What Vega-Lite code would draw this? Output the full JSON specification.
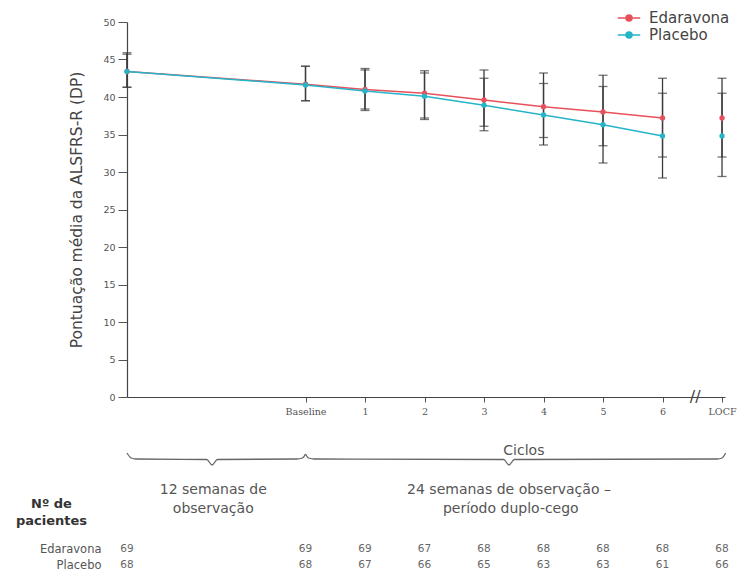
{
  "$schema": "https://vega.github.io/schema/vega-lite/v6.json",
  "background": "white",
  "padding": {"left": 15, "top": 9, "right": 0, "bottom": 0},
  "bounds": "flush",
  "spacing": 10,
  "config": {
    "view": {"stroke": null},
    "font": "DejaVu Sans",
    "axisY": {
      "grid": false, "tickSize": 9, "labelPadding": 3,
      "labelFontSize": 9.5, "labelColor": "#555", "tickColor": "#555",
      "domainColor": "#444", "domainWidth": 1.2,
      "titleFontSize": 15.5, "titleFontWeight": "normal", "titleColor": "#444", "titlePadding": 18
    }
  },
  "datasets": {
    "escores": [
      {"grupo": "Edaravona", "ciclo": -3, "media": 43.4, "inferior": 41.3, "superior": 45.9},
      {"grupo": "Edaravona", "ciclo": 0, "media": 41.7, "inferior": 39.5, "superior": 44.1},
      {"grupo": "Edaravona", "ciclo": 1, "media": 41.0, "inferior": 38.2, "superior": 43.8},
      {"grupo": "Edaravona", "ciclo": 2, "media": 40.5, "inferior": 37.2, "superior": 43.5},
      {"grupo": "Edaravona", "ciclo": 3, "media": 39.6, "inferior": 35.5, "superior": 43.6},
      {"grupo": "Edaravona", "ciclo": 4, "media": 38.7, "inferior": 34.6, "superior": 43.2},
      {"grupo": "Edaravona", "ciclo": 5, "media": 38.0, "inferior": 33.5, "superior": 42.9},
      {"grupo": "Edaravona", "ciclo": 6, "media": 37.2, "inferior": 32.0, "superior": 42.5},
      {"grupo": "Edaravona", "ciclo": 7, "media": 37.2, "inferior": 32.0, "superior": 42.5},
      {"grupo": "Placebo", "ciclo": -3, "media": 43.4, "inferior": 41.3, "superior": 45.7},
      {"grupo": "Placebo", "ciclo": 0, "media": 41.6, "inferior": 39.5, "superior": 44.1},
      {"grupo": "Placebo", "ciclo": 1, "media": 40.8, "inferior": 38.4, "superior": 43.6},
      {"grupo": "Placebo", "ciclo": 2, "media": 40.1, "inferior": 37.0, "superior": 43.2},
      {"grupo": "Placebo", "ciclo": 3, "media": 38.9, "inferior": 36.1, "superior": 42.5},
      {"grupo": "Placebo", "ciclo": 4, "media": 37.6, "inferior": 33.6, "superior": 41.8},
      {"grupo": "Placebo", "ciclo": 5, "media": 36.3, "inferior": 31.2, "superior": 41.4},
      {"grupo": "Placebo", "ciclo": 6, "media": 34.8, "inferior": 29.2, "superior": 40.5},
      {"grupo": "Placebo", "ciclo": 7, "media": 34.8, "inferior": 29.4, "superior": 40.5}
    ],
    "pacientes": [
      {"grupo": "Edaravona", "ciclo": -3, "n": 69},
      {"grupo": "Edaravona", "ciclo": 0, "n": 69},
      {"grupo": "Edaravona", "ciclo": 1, "n": 69},
      {"grupo": "Edaravona", "ciclo": 2, "n": 67},
      {"grupo": "Edaravona", "ciclo": 3, "n": 68},
      {"grupo": "Edaravona", "ciclo": 4, "n": 68},
      {"grupo": "Edaravona", "ciclo": 5, "n": 68},
      {"grupo": "Edaravona", "ciclo": 6, "n": 68},
      {"grupo": "Edaravona", "ciclo": 7, "n": 68},
      {"grupo": "Placebo", "ciclo": -3, "n": 68},
      {"grupo": "Placebo", "ciclo": 0, "n": 68},
      {"grupo": "Placebo", "ciclo": 1, "n": 67},
      {"grupo": "Placebo", "ciclo": 2, "n": 66},
      {"grupo": "Placebo", "ciclo": 3, "n": 65},
      {"grupo": "Placebo", "ciclo": 4, "n": 63},
      {"grupo": "Placebo", "ciclo": 5, "n": 63},
      {"grupo": "Placebo", "ciclo": 6, "n": 61},
      {"grupo": "Placebo", "ciclo": 7, "n": 66}
    ],
    "chaves": [
      {"chave": "observacao", "ciclo": -3.0, "pos": 46},
      {"chave": "observacao", "ciclo": -2.93, "pos": 51},
      {"chave": "observacao", "ciclo": -2.85, "pos": 52},
      {"chave": "observacao", "ciclo": -1.66, "pos": 52.5},
      {"chave": "observacao", "ciclo": -1.57, "pos": 58},
      {"chave": "observacao", "ciclo": -1.48, "pos": 52.5},
      {"chave": "observacao", "ciclo": -0.15, "pos": 52},
      {"chave": "observacao", "ciclo": -0.05, "pos": 51},
      {"chave": "observacao", "ciclo": 0.0, "pos": 47},
      {"chave": "duplo", "ciclo": 0.0, "pos": 47},
      {"chave": "duplo", "ciclo": 0.05, "pos": 51},
      {"chave": "duplo", "ciclo": 0.15, "pos": 52},
      {"chave": "duplo", "ciclo": 3.33, "pos": 52.5},
      {"chave": "duplo", "ciclo": 3.42, "pos": 58},
      {"chave": "duplo", "ciclo": 3.51, "pos": 52.5},
      {"chave": "duplo", "ciclo": 6.92, "pos": 52},
      {"chave": "duplo", "ciclo": 7.0, "pos": 51},
      {"chave": "duplo", "ciclo": 7.06, "pos": 46}
    ],
    "notas": [
      {"texto": "Ciclos", "ciclo": 3.67, "pos": 44},
      {"texto": "12 semanas de", "ciclo": -1.55, "pos": 83},
      {"texto": "observação", "ciclo": -1.55, "pos": 102},
      {"texto": "24 semanas de observação –", "ciclo": 3.42, "pos": 83},
      {"texto": "período duplo-cego", "ciclo": 3.45, "pos": 102}
    ]
  },
  "vconcat": [
    {
      "width": 598,
      "height": 375,
      "data": {"name": "escores"},
      "encoding": {
        "x": {
          "field": "ciclo", "type": "quantitative",
          "scale": {"domain": [-3, 7.05], "nice": false, "zero": false},
          "axis": {
            "values": [0, 1, 2, 3, 4, 5, 6, 7],
            "labelExpr": "datum.value == 0 ? 'Baseline' : datum.value == 7 ? 'LOCF' : datum.label",
            "title": null, "grid": false, "tickSize": 5, "labelPadding": 4,
            "labelFont": "DejaVu Serif", "labelFontSize": 9.5, "labelColor": "#555",
            "tickColor": "#555", "domainColor": "#444", "domainWidth": 1.2
          }
        }
      },
      "layer": [
        {
          "mark": {"type": "errorbar", "orient": "vertical", "ticks": {"size": 9}, "color": "#3b3b3b", "thickness": 1.3},
          "encoding": {
            "y": {
              "field": "inferior", "type": "quantitative",
              "scale": {"domain": [0, 50], "nice": false, "zero": true},
              "axis": {"title": "Pontuação média da ALSFRS-R (DP)", "values": [0, 5, 10, 15, 20, 25, 30, 35, 40, 45, 50]}
            },
            "y2": {"field": "superior"}
          }
        },
        {
          "transform": [{"filter": "datum.ciclo <= 6"}],
          "mark": {"type": "line", "strokeWidth": 1.5},
          "encoding": {
            "y": {
              "field": "media", "type": "quantitative", "scale": {"domain": [0, 50], "nice": false},
              "axis": {"title": "Pontuação média da ALSFRS-R (DP)", "values": [0, 5, 10, 15, 20, 25, 30, 35, 40, 45, 50]}
            },
            "color": {
              "field": "grupo", "type": "nominal",
              "scale": {"domain": ["Edaravona", "Placebo"], "range": ["#e8505b", "#25b4c8"]},
              "legend": {
                "title": null, "orient": "none", "legendX": 493, "legendY": -13, "padding": 0,
                "symbolType": "M-1.4,0H1.4M-0.375,0a0.375,0.375 0 1,0 0.75,0a0.375,0.375 0 1,0 -0.75,0",
                "symbolSize": 256, "symbolStrokeWidth": 1.5, "labelOffset": 11, "rowPadding": 0,
                "labelFontSize": 15, "labelColor": "#444", "labelFont": "DejaVu Sans",
                "encode": {"symbols": {"update": {"fill": {"scale": "color", "field": "value"}}}}
              }
            }
          }
        },
        {
          "mark": {"type": "circle", "size": 28, "opacity": 1},
          "encoding": {
            "y": {
              "field": "media", "type": "quantitative",
              "axis": {"title": "Pontuação média da ALSFRS-R (DP)", "values": [0, 5, 10, 15, 20, 25, 30, 35, 40, 45, 50]}
            },
            "color": {"field": "grupo", "type": "nominal"}
          }
        },
        {
          "data": {"values": [{"ciclo": 6.55, "valor": 0, "marca": "//"}]},
          "mark": {"type": "text", "fontSize": 16, "color": "#444", "baseline": "middle"},
          "encoding": {
            "y": {
              "field": "valor", "type": "quantitative",
              "axis": {"title": "Pontuação média da ALSFRS-R (DP)", "values": [0, 5, 10, 15, 20, 25, 30, 35, 40, 45, 50]}
            },
            "text": {"field": "marca"}
          }
        }
      ]
    },
    {
      "width": 598,
      "height": 124,
      "layer": [
        {
          "data": {"name": "chaves"},
          "mark": {"type": "line", "interpolate": "monotone", "color": "#666", "strokeWidth": 1.3},
          "encoding": {
            "x": {"field": "ciclo", "type": "quantitative", "scale": {"domain": [-3, 7.05], "nice": false, "zero": false}, "axis": null},
            "y": {"field": "pos", "type": "quantitative", "scale": {"domain": [0, 124], "reverse": true, "nice": false, "zero": false}, "axis": null},
            "detail": {"field": "chave"}
          }
        },
        {
          "data": {"name": "notas"},
          "mark": {"type": "text", "fontSize": 14, "color": "#555", "baseline": "middle", "align": "center"},
          "encoding": {
            "x": {"field": "ciclo", "type": "quantitative"},
            "y": {"field": "pos", "type": "quantitative"},
            "text": {"field": "texto"}
          }
        }
      ]
    },
    {
      "width": 598,
      "height": 32,
      "data": {"name": "pacientes"},
      "mark": {"type": "text", "fontSize": 10.5, "color": "#666", "baseline": "middle", "align": "center"},
      "encoding": {
        "x": {"field": "ciclo", "type": "quantitative", "scale": {"domain": [-3, 7.05], "nice": false, "zero": false}, "axis": null},
        "y": {
          "field": "grupo", "type": "nominal",
          "scale": {"domain": ["Edaravona", "Placebo"], "padding": 0.5},
          "axis": {
            "title": ["Nº de", "pacientes"], "titleAngle": 0, "titleAlign": "center", "titleBaseline": "top",
            "titleX": -76, "titleY": -44, "titleFontSize": 13, "titleFontWeight": "bold", "titleColor": "#333",
            "titleLineHeight": 17, "domain": false, "ticks": false, "labelPadding": 26,
            "labelFontSize": 11.5, "labelColor": "#555", "grid": false
          }
        },
        "text": {"field": "n"}
      }
    }
  ]
}
